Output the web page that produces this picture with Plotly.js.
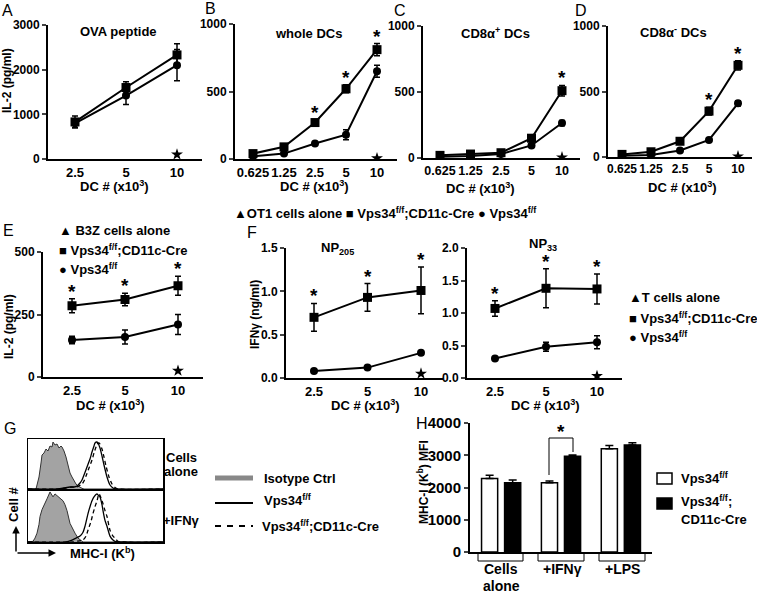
<!DOCTYPE html>
<html><head><meta charset="utf-8">
<script src="https://cdn.plot.ly/plotly-3.0.1.min.js"></script>
<style>body{margin:0;padding:0;background:#fff}#chart{width:757px;height:594px}</style>
</head><body><div id="chart"></div>
<script>
// ---------------- data ----------------
const dcLabels3 = ['2.5', '5', '10'];
const dcLabels5 = ['0.625', '1.25', '2.5', '5', '10'];
// A: OVA peptide
const ovaCre = [830, 1600, 2330], ovaCreErr = [130, 130, 250];
const ovaWT = [800, 1420, 2100], ovaWTErr = [100, 200, 350];
const ovaAlone = [100];
// B: whole DCs
const wholeCre = [40, 90, 270, 520, 810], wholeCreErr = [10, 15, 20, 30, 45];
const wholeWT = [20, 40, 115, 180, 650], wholeWTErr = [5, 8, 10, 37, 44];
const wholeAlone = [5];
// C: CD8a+ DCs
const cd8pCre = [20, 30, 40, 150, 510], cd8pCreErr = [5, 5, 5, 10, 40];
const cd8pWT = [10, 15, 30, 95, 265], cd8pWTErr = [3, 3, 5, 10, 20];
const cd8pAlone = [5];
// D: CD8a- DCs
const cd8nCre = [20, 40, 120, 350, 700], cd8nCreErr = [5, 5, 10, 30, 35];
const cd8nWT = [10, 15, 50, 130, 410], cd8nWTErr = [3, 3, 5, 10, 20];
const cd8nAlone = [5];
// E: B3Z
const b3zCre = [285, 310, 365], b3zCreErr = [28, 25, 38];
const b3zWT = [148, 160, 210], b3zWTErr = [15, 28, 40];
const b3zAlone = [25];
// F: NP205 / NP33
const np205Cre = [0.70, 0.93, 1.01], np205CreErr = [0.16, 0.16, 0.27];
const np205WT = [0.08, 0.12, 0.29], np205WTErr = [0.01, 0.01, 0.02];
const np205Alone = [0.05];
const np33Cre = [1.07, 1.38, 1.37], np33CreErr = [0.12, 0.30, 0.23];
const np33WT = [0.30, 0.48, 0.55], np33WTErr = [0.02, 0.07, 0.10];
const np33Alone = [0.03];
// significance stars (category indices)
const starsB = [2, 3, 4], starsC = [4], starsD = [3, 4];
const starsE = [0, 1, 2], starsF1 = [0, 1, 2], starsF2 = [0, 1, 2];
// G: histograms (channel, count)
const gTopIsoX = [0,8,9,11,13,14,16,18,20,22,24,25,27,29,31,33,34,36,38,40,42,44,46,48,50,52,54,56,135];
const gTopIsoY = [0,0,4,12,26,34,36,40,38,43,42,47,44,45,41,43,42,38,32,24,16,12,8,5,3,1.5,0.7,0,0];
const gTopWTX = [0,30,36,42,46,49,52,54,56,59,62,64,66,67,69,70,72,74,76,79,82,85,88,135];
const gTopWTY = [0,0,1,2,2,3,6,9,14,22,30,37,43,46,47,46,41,33,24,12,4,1,0,0];
const gTopCreX = [0,32,38,44,48,51,54,56,58,61,64,66,68,69,71,72,74,76,78,81,84,87,90,135];
const gTopCreY = [0,0,1,2,2,3,5,8,13,21,29,36,42,45,46,45,40,32,23,12,5,1.5,0,0];
const gBotIsoX = [0,5,7,9,11,12,14,17,19,22,24,25,27,29,31,32,34,35,37,39,42,45,47,50,52,55,135];
const gBotIsoY = [0,0.7,4,9,18,26,33,39,44,51,47,46,49,47,45,44,43,42,38,32,19,12,9,4,2,0,0];
const gBotWTX = [0,38,44,48,52,55,57,60,62,64,66,69,70,72,74,75,77,79,82,85,87,135];
const gBotWTY = [0,0,2,4,6,10,16,29,36,42,46,49,48,46,38,32,22,16,6,2,0.7,0];
const gBotCreX = [0,45,50,55,58,60,63,65,67,69,71,73,75,77,79,82,85,87,90,135];
const gBotCreY = [0,0,1,2,6,12,21,29,36,42,49,45,39,32,26,12,6,4,0.7,0];
// H: MHC-I MFI
const hCats = ['Cells', '+IFNγ', '+LPS'];
const hWT = [2280, 2150, 3200], hWTErr = [100, 50, 100];
const hCre = [2150, 2970, 3320], hCreErr = [80, 40, 70];

// ---------------- layout helpers ----------------
const W = 757, H = 594;
const px = x => x / W, py = y => 1 - y / H;
const FONT = 'Arial, "Liberation Sans", sans-serif';
const bold = a => a.map(t => '<b>' + t + '</b>');
const layout = {
  width: W, height: H, margin: {l: 0, r: 0, t: 0, b: 0},
  paper_bgcolor: '#fff', plot_bgcolor: 'rgba(0,0,0,0)', showlegend: false,
  font: {family: FONT, color: '#000', size: 13, weight: 700},
  barmode: 'group', bargap: 0.23, bargroupgap: 0.3,
  annotations: [], shapes: []
};
const traces = [];
const sfx = i => (i === 1 ? '' : String(i));
function txt(x, y, text, o) {
  const a = {xref: 'paper', yref: 'paper', x: px(x), y: py(y), text: text, showarrow: false,
    xanchor: 'center', yanchor: 'middle', font: {family: FONT, size: 13, color: '#000', weight: 700}};
  if (o) { if (o.font) { Object.assign(a.font, o.font); delete o.font; } Object.assign(a, o); }
  layout.annotations.push(a);
}
function pline(x0, y0, x1, y1, o) {
  layout.shapes.push(Object.assign({type: 'line', xref: 'paper', yref: 'paper',
    x0: px(x0), y0: py(y0), x1: px(x1), y1: py(y1), line: {color: '#000', width: 1.5}}, o || {}));
}

function linePanel(i, x0, x1, yTop, yBot, cats, c0, step, yMax, yTickVals, yTickText, cre, creErr, wt, wtErr, alone, stars, xfs) {
  const n = cats.length;
  const left = -(c0 - x0) / step, right = (n - 1) + (x1 - (c0 + step * (n - 1))) / step;
  const idx = cats.map((c, k) => k);
  layout['xaxis' + sfx(i)] = {domain: [px(x0), px(x1)], range: [left, right], anchor: 'y' + sfx(i),
    tickvals: idx, ticktext: bold(cats), tickangle: 0, showline: true, linewidth: 2, linecolor: '#000', ticks: '',
    showgrid: false, zeroline: false, tickfont: {family: FONT, size: xfs || 13}, fixedrange: true};
  layout['yaxis' + sfx(i)] = {domain: [py(yBot), py(yTop)], range: [0, yMax], anchor: 'x' + sfx(i),
    tickvals: yTickVals, ticktext: bold(yTickText), showline: true, linewidth: 2, linecolor: '#000',
    ticks: 'outside', ticklen: 4, tickwidth: 2, showgrid: false, zeroline: false,
    tickfont: {family: FONT, size: 12}, fixedrange: true};
  const common = {xaxis: 'x' + sfx(i), yaxis: 'y' + sfx(i), type: 'scatter', hoverinfo: 'skip'};
  traces.push(Object.assign({x: idx, y: wt, mode: 'lines+markers', line: {color: '#000', width: 2},
    marker: {symbol: 'circle', size: 8, color: '#000'},
    error_y: {type: 'data', array: wtErr, color: '#000', thickness: 1.5, width: 3}}, common));
  traces.push(Object.assign({x: idx, y: cre, mode: 'lines+markers', line: {color: '#000', width: 2},
    marker: {symbol: 'square', size: 9, color: '#000'},
    error_y: {type: 'data', array: creErr, color: '#000', thickness: 1.5, width: 3}}, common));
  traces.push(Object.assign({x: [n - 1], y: alone, mode: 'markers',
    marker: {symbol: 'star', size: 9, color: '#000'}}, common));
  stars.forEach(k => {
    layout.annotations.push({xref: 'x' + sfx(i), yref: 'y' + sfx(i), x: k, y: cre[k] + creErr[k],
      text: '*', showarrow: false, xanchor: 'center', yanchor: 'bottom', yshift: -5,
      font: {family: FONT, size: 19, color: '#000', weight: 700}});
  });
}

// ---------------- top row ----------------
linePanel(1, 48, 202, 25, 159, dcLabels3, 75, 51, 3000, [0, 1000, 2000, 3000], ['0', '1000', '2000', '3000'],
  ovaCre, ovaCreErr, ovaWT, ovaWTErr, ovaAlone, []);
linePanel(2, 235, 397, 24, 159, dcLabels5, 253, 31, 1000, [0, 500, 1000], ['0', '500', '1000'],
  wholeCre, wholeCreErr, wholeWT, wholeWTErr, wholeAlone, starsB);
linePanel(3, 423, 580, 26, 158, dcLabels5, 440, 30.5, 1000, [0, 500, 1000], ['0', '500', '1000'],
  cd8pCre, cd8pCreErr, cd8pWT, cd8pWTErr, cd8pAlone, starsC, 12.5);
linePanel(4, 608, 752, 26, 157, dcLabels5, 622, 29, 1000, [0, 500, 1000], ['0', '500', '1000'],
  cd8nCre, cd8nCreErr, cd8nWT, cd8nWTErr, cd8nAlone, starsD, 12);
// ---------------- middle row ----------------
linePanel(5, 43, 203, 252, 377, dcLabels3, 72, 53, 500, [0, 250, 500], ['0', '250', '500'],
  b3zCre, b3zCreErr, b3zWT, b3zWTErr, b3zAlone, starsE);
linePanel(6, 286, 443, 248, 378, dcLabels3, 314, 53.5, 1.5, [0, 0.5, 1, 1.5], ['0.0', '0.5', '1.0', '1.5'],
  np205Cre, np205CreErr, np205WT, np205WTErr, np205Alone, starsF1);
linePanel(7, 467, 622, 248, 378, dcLabels3, 495, 51, 2.0, [0, 0.5, 1, 1.5, 2], ['0.0', '0.5', '1.0', '1.5', '2.0'],
  np33Cre, np33CreErr, np33WT, np33WTErr, np33Alone, starsF2);

// ---------------- G histograms ----------------
function histPanel(i, yTop, yBot, yMax, isoX, isoY, wtX, wtY, creX, creY) {
  layout['xaxis' + i] = {domain: [px(28), px(163)], range: [0, 135], anchor: 'y' + i, showline: true, mirror: 'all',
    linewidth: 1.5, linecolor: '#000', showticklabels: false, ticks: '', showgrid: false, zeroline: false, fixedrange: true};
  layout['yaxis' + i] = {domain: [py(yBot), py(yTop)], range: [0, yMax], anchor: 'x' + i, showline: true, mirror: 'all',
    linewidth: 1.5, linecolor: '#000', showticklabels: false, ticks: '', showgrid: false, zeroline: false, fixedrange: true};
  const c = {xaxis: 'x' + i, yaxis: 'y' + i, type: 'scatter', mode: 'lines', hoverinfo: 'skip'};
  traces.push(Object.assign({x: isoX, y: isoY, fill: 'tozeroy', fillcolor: '#a3a3a3', line: {color: '#333', width: 1}}, c));
  traces.push(Object.assign({x: wtX, y: wtY, line: {color: '#000', width: 1.3, shape: 'spline', smoothing: 0.6}}, c));
  traces.push(Object.assign({x: creX, y: creY, line: {color: '#000', width: 1.3, dash: '4px,3px', shape: 'spline', smoothing: 0.6}}, c));
}
histPanel(8, 439, 489, 50, gTopIsoX, gTopIsoY, gTopWTX, gTopWTY, gTopCreX, gTopCreY);
histPanel(9, 490, 542, 53, gBotIsoX, gBotIsoY, gBotWTX, gBotWTY, gBotCreX, gBotCreY);

// ---------------- H bars ----------------
layout.xaxis10 = {domain: [px(470), px(652)], range: [-0.52, 2.52], anchor: 'y10', tickvals: [0, 1, 2],
  showticklabels: false, showline: true, linewidth: 2, linecolor: '#000', ticks: '', showgrid: false, zeroline: false, fixedrange: true};
layout.yaxis10 = {domain: [py(552), py(423)], range: [0, 4000], anchor: 'x10', tickvals: [0, 1000, 2000, 3000, 4000],
  ticktext: bold(['0', '1000', '2000', '3000', '4000']),
  showline: true, linewidth: 2, linecolor: '#000', ticks: 'outside', ticklen: 4, tickwidth: 2,
  showgrid: false, zeroline: false, tickfont: {family: FONT, size: 15}, fixedrange: true};
traces.push({type: 'bar', x: [0, 1, 2], y: hWT, xaxis: 'x10', yaxis: 'y10', hoverinfo: 'skip',
  marker: {color: '#fff', line: {color: '#000', width: 1.5}},
  error_y: {type: 'data', array: hWTErr, arrayminus: [0, 0, 0], symmetric: false, color: '#000', thickness: 1.5, width: 4}});
traces.push({type: 'bar', x: [0, 1, 2], y: hCre, xaxis: 'x10', yaxis: 'y10', hoverinfo: 'skip',
  marker: {color: '#000', line: {color: '#000', width: 1.5}},
  error_y: {type: 'data', array: hCreErr, arrayminus: [0, 0, 0], symmetric: false, color: '#000', thickness: 1.5, width: 4}});
// category brackets and labels
[[478, 523], [538, 584], [599, 645]].forEach(b => {
  pline(b[0], 554, b[0], 561, {line: {color: '#000', width: 1}});
  pline(b[1], 554, b[1], 561, {line: {color: '#000', width: 1}});
  pline(b[0], 561, b[1], 561, {line: {color: '#000', width: 1}});
});
txt(501, 569, hCats[0], {font: {size: 14}});
txt(501, 586, 'alone', {font: {size: 14}});
txt(562, 569, hCats[1], {font: {size: 14}});
txt(622, 569, hCats[2], {font: {size: 14}});
// significance bracket
layout.shapes.push({type: 'path', xref: 'paper', yref: 'paper',
  path: `M ${px(549)} ${py(475)} L ${px(549)} ${py(438)} L ${px(573)} ${py(438)} L ${px(573)} ${py(452)}`,
  line: {color: '#000', width: 1}});
txt(561, 431, '*', {font: {size: 19}});
// H legend
layout.shapes.push({type: 'rect', xref: 'paper', yref: 'paper', x0: px(657), x1: px(672), y0: py(484), y1: py(473),
  fillcolor: '#fff', line: {color: '#000', width: 1.5}});
layout.shapes.push({type: 'rect', xref: 'paper', yref: 'paper', x0: px(657), x1: px(672), y0: py(509), y1: py(498),
  fillcolor: '#000', line: {color: '#000', width: 1.5}});
txt(679, 478, 'Vps34<sup>f/f</sup>', {xanchor: 'left'});
txt(679, 501, 'Vps34<sup>f/f</sup>;', {xanchor: 'left'});
txt(679, 519, 'CD11c-Cre', {xanchor: 'left'});
txt(423, 482, 'MHC-I (K<sup>b</sup>) MFI', {textangle: -90, font: {size: 12}});

// ---------------- texts ----------------
// panel letters
[['A', 7, 10], ['B', 211, 9], ['C', 400, 10], ['D', 581, 10], ['E', 8, 230], ['F', 252, 232], ['G', 10, 428], ['H', 422, 423]]
  .forEach(l => txt(l[1], l[2], l[0], {font: {size: 16, weight: 400}}));
// titles
txt(118, 32, 'OVA peptide');
txt(308, 33, 'whole DCs');
txt(495, 33, 'CD8α<sup>+</sup> DCs');
txt(673, 32, 'CD8α<sup>-</sup> DCs');
txt(337, 249, 'NP<sub>205</sub>');
txt(543, 244, 'NP<sub>33</sub>');
// axis titles
const dcTitle = 'DC # (x10<sup>3</sup>)';
txt(114, 186, dcTitle); txt(314, 186, dcTitle); txt(480, 188, dcTitle); txt(682, 187, dcTitle);
txt(110, 405, dcTitle); txt(365, 405, dcTitle); txt(545, 405, dcTitle);
txt(7, 81, 'IL-2 (pg/ml)', {textangle: -90, font: {size: 12}});
txt(9, 327, 'IL-2 (pg/ml)', {textangle: -90, font: {size: 12}});
txt(255, 315, 'IFNγ (ng/ml)', {textangle: -90, font: {size: 12}});
// legends
txt(385, 213, '▲OT1 cells alone ■ Vps34<sup>f/f</sup>;CD11c-Cre ● Vps34<sup>f/f</sup>');
txt(57, 231, '▲ B3Z cells alone', {xanchor: 'left'});
txt(57, 250, '■ Vps34<sup>f/f</sup>;CD11c-Cre', {xanchor: 'left'});
txt(57, 269, '● Vps34<sup>f/f</sup>', {xanchor: 'left'});
txt(627, 297, '▲T cells alone', {xanchor: 'left'});
txt(627, 318, '■ Vps34<sup>f/f</sup>;CD11c-Cre', {xanchor: 'left'});
txt(627, 337, '● Vps34<sup>f/f</sup>', {xanchor: 'left'});
// G labels & legend
txt(181, 457, 'Cells'); txt(181, 471, 'alone'); txt(181, 520, '+IFNγ');
txt(13, 505, 'Cell #', {textangle: -90});
txt(102, 553, 'MHC-I (K<sup>b</sup>)');
layout.annotations.push({xref: 'paper', yref: 'paper', x: px(16), y: py(526), ax: 0, ay: 27, text: '', showarrow: true,
  arrowhead: 2, arrowsize: 1, arrowwidth: 1.5, arrowcolor: '#000'});
layout.annotations.push({xref: 'paper', yref: 'paper', x: px(56), y: py(553), ax: -40, ay: 0, text: '', showarrow: true,
  arrowhead: 2, arrowsize: 1, arrowwidth: 1.5, arrowcolor: '#000'});
pline(215, 478, 253, 478, {line: {color: '#888', width: 5}});
pline(215, 503, 253, 503, {line: {color: '#000', width: 2}});
pline(215, 526, 253, 526, {line: {color: '#000', width: 2, dash: '6px,6px'}});
txt(262, 478, 'Isotype Ctrl', {xanchor: 'left'});
txt(262, 500, 'Vps34<sup>f/f</sup>', {xanchor: 'left'});
txt(260, 526, 'Vps34<sup>f/f</sup>;CD11c-Cre', {xanchor: 'left'});

Plotly.newPlot('chart', traces, layout, {staticPlot: true, displayModeBar: false});
</script></body></html>
